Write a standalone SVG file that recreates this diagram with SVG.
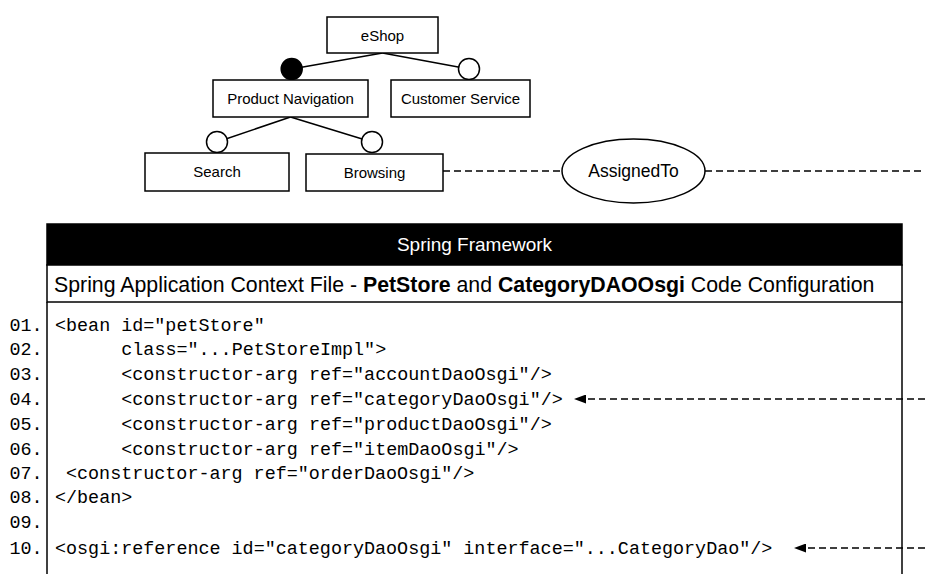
<svg xmlns="http://www.w3.org/2000/svg" width="925" height="574" viewBox="0 0 925 574">
<style>
.box{fill:#fff;stroke:#000;stroke-width:1.5}
.lbl{font-family:"Liberation Sans",Arial,sans-serif;font-size:15px;text-anchor:middle;fill:#000}
.ln{stroke:#000;stroke-width:1.5;fill:none}
.dash{stroke:#000;stroke-width:1.3;fill:none;stroke-dasharray:7,4}
.code{font-family:"Liberation Mono","DejaVu Sans Mono",monospace;font-size:18.4px;fill:#000}
.hdr{font-family:"Liberation Sans",Arial,sans-serif;font-size:19px;fill:#000}
</style>
<defs>
<marker id="arr" markerWidth="13" markerHeight="9" refX="12" refY="4.5" orient="auto" markerUnits="userSpaceOnUse">
<path d="M0,0 L12,4.5 L0,9 Z" fill="#000"/>
</marker>
</defs>
<rect width="925" height="574" fill="#fff"/>
<g id="connectors">
<line class="ln" x1="382.5" y1="53" x2="291.7" y2="69"/>
<line class="ln" x1="382.5" y1="53" x2="469" y2="69"/>
<line class="ln" x1="290.5" y1="117" x2="217" y2="142"/>
<line class="ln" x1="290.5" y1="117" x2="372" y2="142"/>
<circle cx="291.7" cy="69" r="10.5" fill="#000" stroke="#000" stroke-width="1.5"/>
<circle cx="469" cy="69" r="10.5" class="box"/>
<circle cx="217" cy="142" r="10.5" class="box"/>
<circle cx="372" cy="142" r="10.5" class="box"/>
<line class="dash" x1="443" y1="171" x2="562" y2="171"/>
<line class="dash" x1="705" y1="171" x2="925" y2="171"/>
<line class="dash" x1="925" y1="399" x2="574" y2="399" marker-end="url(#arr)"/>
<line class="dash" x1="925" y1="548" x2="794" y2="548" marker-end="url(#arr)"/>
</g>
<g id="eshop"><rect class="box" x="327" y="17" width="111" height="36"/><text class="lbl" x="382.5" y="40.5">eShop</text></g>
<g id="product-navigation"><rect class="box" x="213" y="80" width="155" height="37"/><text class="lbl" x="290.5" y="104">Product Navigation</text></g>
<g id="customer-service"><rect class="box" x="391" y="80" width="139" height="37"/><text class="lbl" x="460.5" y="104">Customer Service</text></g>
<g id="search"><rect class="box" x="145" y="153" width="144" height="38"/><text class="lbl" x="217" y="177">Search</text></g>
<g id="browsing"><rect class="box" x="306" y="154" width="137" height="37"/><text class="lbl" x="374.5" y="178">Browsing</text></g>
<g id="assignedto"><ellipse class="box" cx="633.5" cy="171" rx="71.5" ry="32"/><text class="lbl" x="633.5" y="177" style="font-size:17.5px">AssignedTo</text></g>
<g id="spring-framework">
<rect x="47" y="224" width="855" height="41" fill="#000" stroke="#000" stroke-width="1.5"/>
<text class="hdr" x="474.5" y="251" text-anchor="middle" style="fill:#fff">Spring Framework</text>
<rect class="box" x="47" y="265" width="855" height="37"/>
<text class="hdr" x="54" y="292" style="font-size:21.3px">Spring Application Context File - <tspan font-weight="bold">PetStore</tspan> and <tspan font-weight="bold">CategoryDAOOsgi</tspan> Code Configuration</text>
<line class="ln" x1="47" y1="302" x2="47" y2="575"/>
<line class="ln" x1="902" y1="302" x2="902" y2="575"/>
<g class="code">
<text x="9.5" y="330.5">01.</text>
<text x="9.5" y="355.3">02.</text>
<text x="9.5" y="380.1">03.</text>
<text x="9.5" y="404.9">04.</text>
<text x="9.5" y="429.7">05.</text>
<text x="9.5" y="454.5">06.</text>
<text x="9.5" y="479.3">07.</text>
<text x="9.5" y="503">08.</text>
<text x="9.5" y="528.3">09.</text>
<text x="9.5" y="553.7">10.</text>
<text x="55" y="330.5">&lt;bean id="petStore"</text>
<text x="121.3" y="355.3">class="...PetStoreImpl"&gt;</text>
<text x="121.3" y="380.1">&lt;constructor-arg ref="accountDaoOsgi"/&gt;</text>
<text x="121.3" y="404.9">&lt;constructor-arg ref="categoryDaoOsgi"/&gt;</text>
<text x="121.3" y="429.7">&lt;constructor-arg ref="productDaoOsgi"/&gt;</text>
<text x="121.3" y="454.5">&lt;constructor-arg ref="itemDaoOsgi"/&gt;</text>
<text x="66" y="479.3">&lt;constructor-arg ref="orderDaoOsgi"/&gt;</text>
<text x="55" y="503">&lt;/bean&gt;</text>
<text x="55" y="553.7">&lt;osgi:reference id="categoryDaoOsgi" interface="...CategoryDao"/&gt;</text>
</g>
</g>
</svg>
